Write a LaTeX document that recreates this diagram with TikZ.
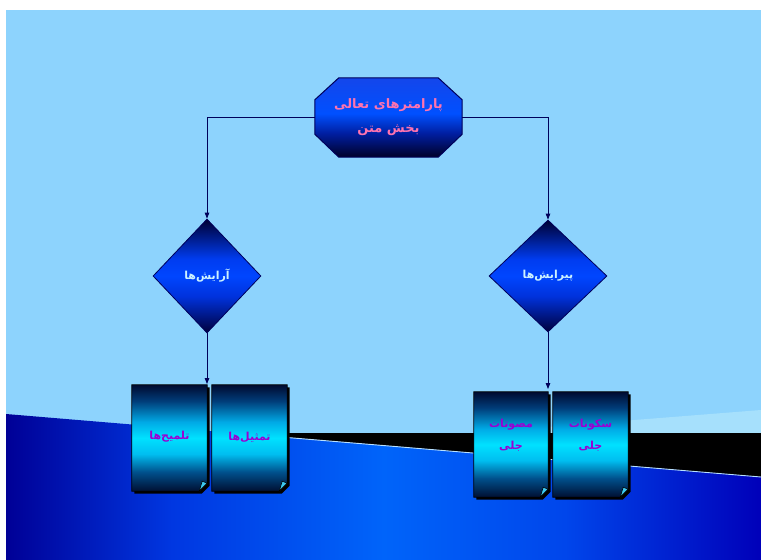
\documentclass[tikz,border=0pt]{standalone}
\usepackage{fontspec}
\usetikzlibrary{shapes.geometric,arrows.meta,calc}
\newfontfamily\farsi[Script=Arabic]{DejaVu Sans}
\TeXXeTstate=1

% palette
\definecolor{skyback}{RGB}{141,211,253}
\definecolor{paleband}{RGB}{166,224,252}
\definecolor{linenavy}{RGB}{0,0,90}
\definecolor{titlepink}{RGB}{255,115,175}
\definecolor{diamtext}{RGB}{205,242,255}
\definecolor{doctext}{RGB}{155,0,210}
\definecolor{foldcyan}{RGB}{60,200,240}
\definecolor{seaedge}{RGB}{185,225,255}

% shadings (the path box covers the central 25bp..75bp band)
\pgfdeclarehorizontalshading{seashade}{100bp}{
  color(0bp)=(rgb,255:red,0;green,0;blue,150);
  color(25bp)=(rgb,255:red,0;green,0;blue,150);
  color(36bp)=(rgb,255:red,0;green,55;blue,225);
  color(50bp)=(rgb,255:red,0;green,100;blue,250);
  color(62bp)=(rgb,255:red,0;green,70;blue,235);
  color(75bp)=(rgb,255:red,0;green,0;blue,185);
  color(100bp)=(rgb,255:red,0;green,0;blue,185)}
\pgfdeclareverticalshading{docshade}{100bp}{
  color(0bp)=(rgb,255:red,0;green,15;blue,50);
  color(25bp)=(rgb,255:red,0;green,15;blue,50);
  color(34bp)=(rgb,255:red,0;green,80;blue,140);
  color(42.5bp)=(rgb,255:red,0;green,190;blue,240);
  color(50bp)=(rgb,255:red,0;green,225;blue,255);
  color(57.5bp)=(rgb,255:red,0;green,170;blue,230);
  color(67.5bp)=(rgb,255:red,0;green,60;blue,120);
  color(75bp)=(rgb,255:red,0;green,10;blue,48);
  color(100bp)=(rgb,255:red,0;green,10;blue,48)}
\pgfdeclareverticalshading{octshade}{100bp}{
  color(0bp)=(rgb,255:red,0;green,0;blue,40);
  color(25bp)=(rgb,255:red,0;green,0;blue,40);
  color(40bp)=(rgb,255:red,0;green,30;blue,160);
  color(52.5bp)=(rgb,255:red,0;green,80;blue,255);
  color(75bp)=(rgb,255:red,20;green,70;blue,235);
  color(100bp)=(rgb,255:red,20;green,70;blue,235)}
\pgfdeclareverticalshading{diamshade}{100bp}{
  color(0bp)=(rgb,255:red,0;green,0;blue,60);
  color(25bp)=(rgb,255:red,0;green,0;blue,60);
  color(41bp)=(rgb,255:red,0;green,50;blue,220);
  color(50bp)=(rgb,255:red,0;green,70;blue,255);
  color(57.5bp)=(rgb,255:red,0;green,60;blue,240);
  color(75bp)=(rgb,255:red,0;green,0;blue,50);
  color(100bp)=(rgb,255:red,0;green,0;blue,50)}

\pgfdeclarelayer{back}
\pgfdeclarelayer{shapes}
\pgfsetlayers{back,shapes,main}

\tikzset{
  titlebox/.style={rectangle, inner sep=0pt, minimum width=147pt, minimum height=79pt,
    align=center, text=titlepink, font=\farsi\bfseries\fontsize{13}{24}\selectfont},
  octfill/.style={shading=octshade, draw=linenavy, line width=1pt},
  choice/.style={diamond, inner sep=0pt, shading=diamshade, draw=linenavy, line width=0.8pt,
    text=diamtext, font=\farsi\bfseries\fontsize{11}{14}\selectfont},
  docbox/.style={rectangle, inner sep=0pt, minimum width=75pt, minimum height=106pt},
  doclabel/.style={align=center, inner sep=0pt, text=doctext,
    font=\farsi\bfseries\fontsize{11}{22}\selectfont},
  docfill/.style={shading=docshade, draw=black, line width=0.8pt},
  docshadow/.style={fill=black},
  docfold/.style={fill=foldcyan, draw=black, line width=0.6pt},
  conn/.style={draw=linenavy, line width=0.8pt, -{Triangle[length=6pt,width=4.5pt]}},
}

\begin{document}
\begin{tikzpicture}[x=1pt,y=-1pt]
\useasboundingbox (0,0) rectangle (761,560);

% backdrop: sky, pale streak, dark strip and the sea
\begin{pgfonlayer}{back}
  \fill[white] (0,0) rectangle (761,560);
  \fill[skyback] (6,10) rectangle (761,560);
  \fill[paleband] (470,433) -- (761,410) -- (761,433) -- cycle;
  \fill[black] (286,433) -- (761,433) -- (761,477) -- (286,437.4) -- cycle;
  \path[shading=seashade] (6,414) -- (761,477) -- (761,560) -- (6,560) -- cycle;
  \draw[seaedge, line width=0.9pt] (286,437.4) -- (761,477);
\end{pgfonlayer}

% title
\node[titlebox] (top) at (388.5,117.5)
  {\beginR پارامترهای تعالی\endR\\\beginR بخش متن\endR};

% the two branches
\node[choice, minimum width=108pt, minimum height=114pt] (ld) at (207,276)
  {\beginR آرایش^^^^200cها\endR};
\node[choice, minimum width=118pt, minimum height=112pt] (rd) at (548,276)
  {\beginR پیرایش^^^^200cها\endR};

% document sheets
\node[docbox] (ld1) at (169.5,438) {};
\node[docbox] (ld2) at (249.5,438) {};
\node[docbox, minimum width=74pt, minimum height=105pt] (rd1) at (511,444.5) {};
\node[docbox, minimum width=75pt, minimum height=105pt] (rd2) at (590.5,444.5) {};

% their captions
\node[doclabel] (ld1t) at (169.5,437) {\beginR تلمیح^^^^200cها\endR};
\node[doclabel] (ld2t) at (249.5,437) {\beginR تمثیل^^^^200cها\endR};
\node[doclabel] (rd1t) at (511,435) {\beginR مصوتات\endR\\\beginR جلی\endR};
\node[doclabel] (rd2t) at (590.5,435) {\beginR سکونات\endR\\\beginR جلی\endR};

\coordinate (lgroup) at (207,384);
\coordinate (rgroup) at (548,389);

\begin{pgfonlayer}{shapes}
  % octagon behind the title
  \path[octfill]
    ($(top.north west)+(24,0)$) -- ($(top.north east)+(-24,0)$)
    -- ($(top.north east)+(0,22)$) -- ($(top.south east)+(0,-23)$)
    -- ($(top.south east)+(-24,0)$) -- ($(top.south west)+(24,0)$)
    -- ($(top.south west)+(0,-23)$) -- ($(top.north west)+(0,22)$) -- cycle;
  % sheets with shadow and folded corner
  \foreach \d in {ld1,ld2,rd1,rd2}{
    \fill[docshadow]
      ($(\d.north west)+(2.5,2.5)$) -- ($(\d.north east)+(2.5,2.5)$)
      -- ($(\d.south east)+(2.5,-5.5)$) -- ($(\d.south east)+(-5.5,2.5)$)
      -- ($(\d.south west)+(2.5,2.5)$) -- cycle;
    \path[docfill]
      (\d.north west) -- (\d.north east) -- ($(\d.south east)+(0,-8)$)
      -- ($(\d.south east)+(-8,0)$) -- (\d.south west) -- cycle;
    \path[docfold]
      ($(\d.south east)+(0,-8)$) -- ($(\d.south east)+(-8,0)$)
      -- ($(\d.south east)+(-5,-10)$) -- cycle;
  }
\end{pgfonlayer}

% connectors
\draw[conn] (top.west) -| (ld.north);
\draw[conn] (top.east) -| (rd.north);
\draw[conn] (ld.south) -- (lgroup);
\draw[conn] (rd.south) -- (rgroup);
\end{tikzpicture}
\end{document}
